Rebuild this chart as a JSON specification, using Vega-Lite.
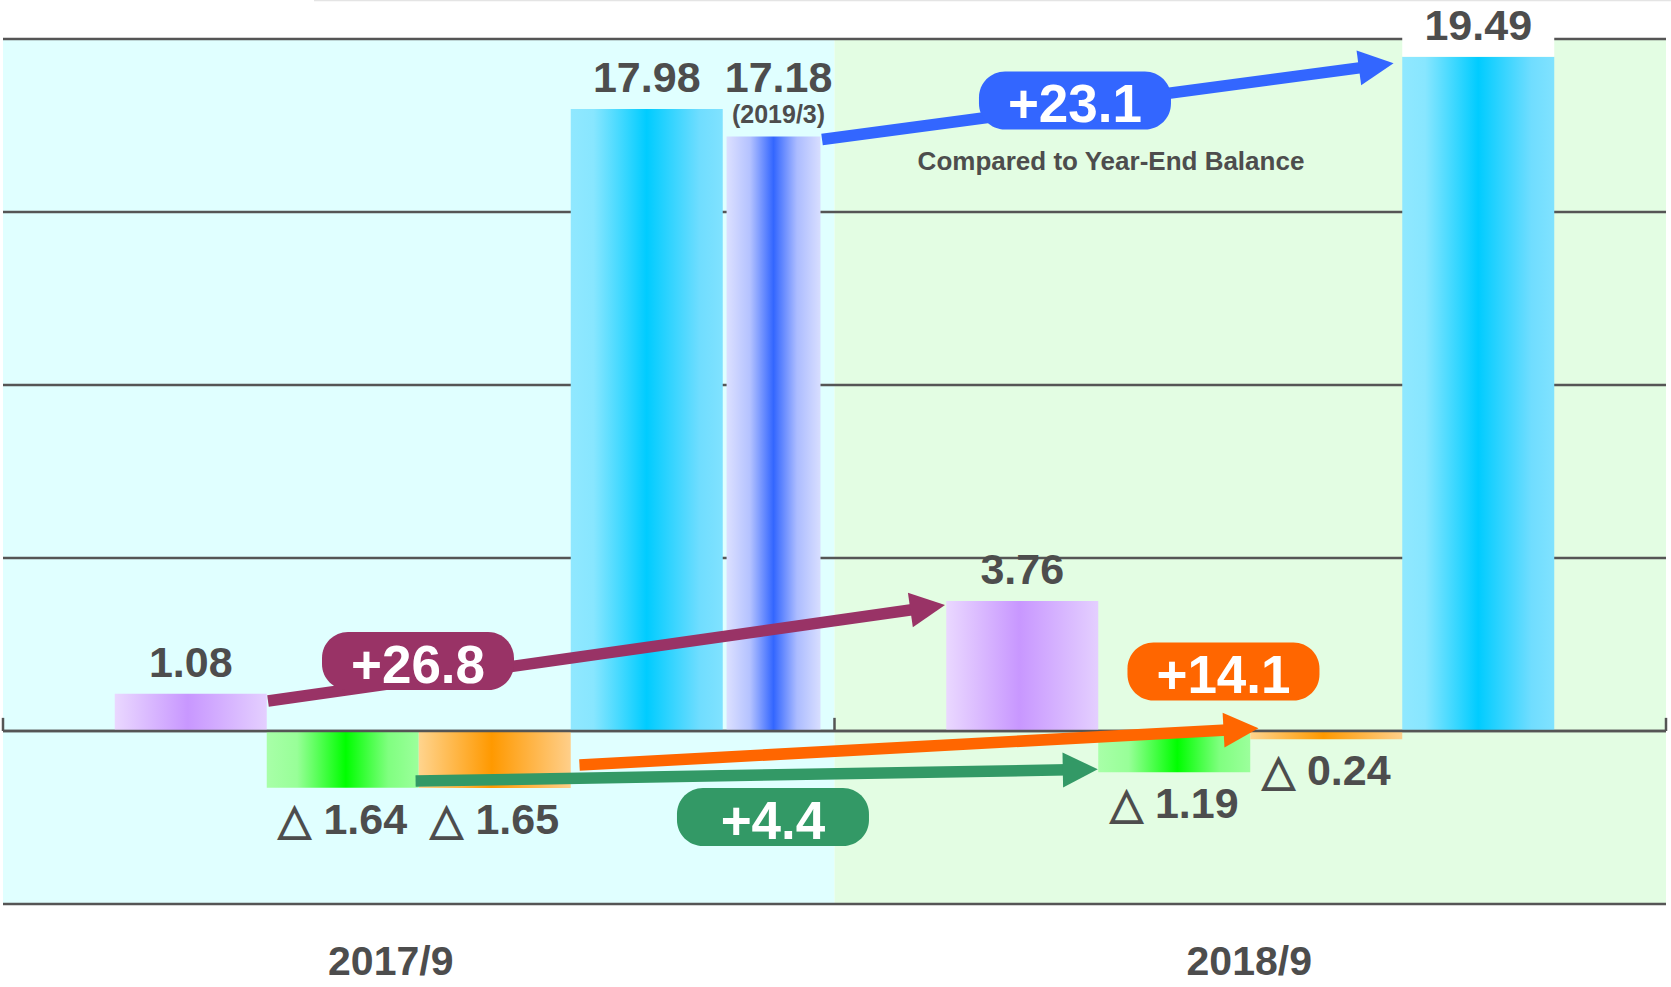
{
  "$schema": "https://vega.github.io/schema/vega-lite/v6.json",
  "width": 1663,
  "height": 865,
  "autosize": {"type": "none"},
  "padding": {"left": 3, "top": 39, "right": 5, "bottom": 83},
  "background": "white",
  "config": {"view": {"stroke": null}, "font": "Liberation Sans"},
  "datasets": {
    "periods": [{"period": "2017/9"}, {"period": "2018/9"}],
    "gridValues": [{"v": -5}, {"v": 0}, {"v": 5}, {"v": 10}, {"v": 15}, {"v": 20}],
    "cf": [
      {"period": "2017/9", "item": "Operating CF", "value": 1.08, "label": "1.08"},
      {"period": "2017/9", "item": "Investing CF", "value": -1.64, "label": "△ 1.64"},
      {"period": "2017/9", "item": "Financing CF", "value": -1.65, "label": "△ 1.65"},
      {"period": "2017/9", "item": "Cash Balance", "value": 17.98, "label": "17.98"},
      {"period": "2018/9", "item": "Operating CF", "value": 3.76, "label": "3.76"},
      {"period": "2018/9", "item": "Investing CF", "value": -1.19, "label": "△ 1.19"},
      {"period": "2018/9", "item": "Financing CF", "value": -0.24, "label": "△ 0.24"},
      {"period": "2018/9", "item": "Cash Balance", "value": 19.49, "label": "19.49"}
    ],
    "yearEnd": [
      {"period": "2017/9", "kind": "Year-End", "value": 17.18, "label": "17.18", "sub": "(2019/3)"}
    ],
    "changes": [
      {"arrow": "Operating CF", "xs": 0.3187, "ys": 0.867, "xe": 1.1121, "ye": 3.569, "label": "+26.8", "xl": 0.4991, "yl": 2.023},
      {"arrow": "Cash Balance", "xs": 0.985, "ys": 17.095, "xe": 1.6515, "ye": 19.231, "label": "+23.1", "xl": 1.2892, "yl": 18.223},
      {"arrow": "Financing CF", "xs": 0.6933, "ys": -0.983, "xe": 1.4889, "ye": 0.052, "label": "+14.1", "xl": 1.4678, "yl": 1.72},
      {"arrow": "Investing CF", "xs": 0.4962, "ys": -1.445, "xe": 1.2956, "ye": -1.116, "label": "+4.4", "xl": 0.926, "yl": -2.486}
    ],
    "notes": [
      {"note": "Compared to Year-End Balance", "xn": 1.3325, "yn": 16.214}
    ],
    "border": [
      {"x1": 0.374, "x2": 2.01, "y": 21.11}
    ]
  },
  "layer": [
    {
      "layer": [
        {
          "data": {"name": "periods"},
          "mark": {"type": "bar"},
          "encoding": {
            "x": {
              "field": "period", "type": "nominal",
              "scale": {"domain": ["2017/9", "2018/9"], "paddingInner": 0, "paddingOuter": 0},
              "axis": null
            },
            "y": {
              "datum": -5, "type": "quantitative",
              "scale": {"domain": [-5, 20], "nice": false, "zero": false},
              "axis": null
            },
            "y2": {"datum": 20},
            "fill": {
              "field": "period", "type": "nominal",
              "scale": {"domain": ["2017/9", "2018/9"], "range": ["#E0FFFF", "#E3FDE3"]},
              "legend": null
            }
          }
        },
        {
          "data": {"name": "gridValues"},
          "mark": {"type": "rule", "stroke": "#555555", "strokeWidth": 2.5},
          "encoding": {
            "y": {"field": "v", "type": "quantitative", "axis": null, "scale": {"domain": [-5, 20], "nice": false, "zero": false}}
          }
        },
        {
          "data": {"name": "cf"},
          "encoding": {
            "x": {"field": "period", "type": "nominal", "axis": null},
            "xOffset": {
              "field": "item", "type": "nominal",
              "scale": {"domain": ["Operating CF", "Investing CF", "Financing CF", "Cash Balance"], "paddingInner": 0, "paddingOuter": 0.7352}
            },
            "y": {"field": "value", "type": "quantitative", "axis": null, "scale": {"domain": [-5, 20], "nice": false, "zero": false}}
          },
          "layer": [
            {
              "transform": [{"filter": "datum.item === 'Operating CF'"}],
              "mark": {"type": "bar", "fill": {"gradient": "linear", "x1": 0, "y1": 0, "x2": 1, "y2": 0,
                "stops": [{"offset": 0, "color": "#EAD8FF"}, {"offset": 0.48, "color": "#C897FF"}, {"offset": 1, "color": "#E4CFFF"}]}}
            },
            {
              "transform": [{"filter": "datum.item === 'Investing CF'"}],
              "mark": {"type": "bar", "fill": {"gradient": "linear", "x1": 0, "y1": 0, "x2": 1, "y2": 0,
                "stops": [{"offset": 0, "color": "#A8FFA8"}, {"offset": 0.2, "color": "#98FF98"}, {"offset": 0.52, "color": "#00FF00"}, {"offset": 0.8, "color": "#80FF80"}, {"offset": 1, "color": "#9CFF9C"}]}}
            },
            {
              "transform": [{"filter": "datum.item === 'Financing CF'"}],
              "mark": {"type": "bar", "fill": {"gradient": "linear", "x1": 0, "y1": 0, "x2": 1, "y2": 0,
                "stops": [{"offset": 0, "color": "#FFD48E"}, {"offset": 0.48, "color": "#FF9900"}, {"offset": 1, "color": "#FFCF8A"}]}}
            },
            {
              "transform": [{"filter": "datum.item === 'Cash Balance'"}],
              "mark": {"type": "bar", "fill": {"gradient": "linear", "x1": 0, "y1": 0, "x2": 1, "y2": 0,
                "stops": [{"offset": 0, "color": "#90E8FF"}, {"offset": 0.15, "color": "#88E6FF"}, {"offset": 0.5, "color": "#00CCFF"}, {"offset": 0.85, "color": "#70DDFF"}, {"offset": 1, "color": "#80E2FF"}]}}
            },
            {
              "transform": [{"filter": "datum.item === 'Cash Balance' && datum.period === '2018/9'"}],
              "mark": {"type": "bar", "fill": "white"},
              "encoding": {"y2": {"datum": 20.15}}
            },
            {
              "transform": [{"filter": "datum.value >= 0"}],
              "mark": {"type": "text", "baseline": "alphabetic", "align": "center", "dy": -17, "fontSize": 43, "fontWeight": "bold", "fill": "#4d4d4d", "font": "Liberation Sans"},
              "encoding": {"text": {"field": "label"}}
            },
            {
              "transform": [{"filter": "datum.value < 0"}],
              "mark": {"type": "text", "baseline": "alphabetic", "align": "center", "dy": 46, "fontSize": 43, "fontWeight": "bold", "fill": "#4d4d4d", "font": "Liberation Sans"},
              "encoding": {"text": {"field": "label"}}
            }
          ]
        },
        {
          "data": {"name": "yearEnd"},
          "encoding": {
            "x": {"field": "period", "type": "nominal", "axis": null},
            "xOffset": {
              "field": "kind", "type": "nominal",
              "scale": {"domain": ["Half-Year", "Year-End"], "paddingInner": 0.8676, "paddingOuter": 0.0197}
            },
            "y": {"field": "value", "type": "quantitative", "axis": null, "scale": {"domain": [-5, 20], "nice": false, "zero": false}}
          },
          "layer": [
            {
              "mark": {"type": "bar", "fill": {"gradient": "linear", "x1": 0, "y1": 0, "x2": 1, "y2": 0,
                "stops": [{"offset": 0, "color": "#DCE0FF"}, {"offset": 0.25, "color": "#B4C2FF"}, {"offset": 0.5, "color": "#3366FF"}, {"offset": 0.75, "color": "#ACBCFF"}, {"offset": 1, "color": "#D8DEFF"}]}}
            },
            {
              "mark": {"type": "text", "baseline": "alphabetic", "align": "center", "dx": 5, "dy": -45, "fontSize": 43, "fontWeight": "bold", "fill": "#4d4d4d", "font": "Liberation Sans"},
              "encoding": {"text": {"field": "label"}}
            },
            {
              "mark": {"type": "text", "baseline": "alphabetic", "align": "center", "dx": 5, "dy": -14, "fontSize": 25, "fontWeight": "bold", "fill": "#4d4d4d", "font": "Liberation Sans"},
              "encoding": {"text": {"field": "sub"}}
            }
          ]
        },
        {
          "data": {"name": "periods"},
          "mark": {"type": "rule", "stroke": "#555555", "strokeWidth": 2.5},
          "encoding": {
            "x": {"field": "period", "type": "nominal", "bandPosition": 0, "axis": null},
            "y": {"datum": 0, "type": "quantitative", "axis": null, "scale": {"domain": [-5, 20], "nice": false, "zero": false}},
            "y2": {"datum": 0.38}
          }
        },
        {
          "data": {"name": "periods"},
          "transform": [{"filter": "datum.period === '2018/9'"}],
          "mark": {"type": "rule", "stroke": "#555555", "strokeWidth": 2.5},
          "encoding": {
            "x": {"field": "period", "type": "nominal", "bandPosition": 1, "axis": null},
            "y": {"datum": 0, "type": "quantitative", "axis": null, "scale": {"domain": [-5, 20], "nice": false, "zero": false}},
            "y2": {"datum": 0.38}
          }
        },
        {
          "data": {"name": "gridValues"},
          "transform": [{"filter": "datum.v === 0"}],
          "mark": {"type": "rule", "stroke": "#555555", "strokeWidth": 2.5},
          "encoding": {
            "y": {"field": "v", "type": "quantitative", "axis": null, "scale": {"domain": [-5, 20], "nice": false, "zero": false}}
          }
        },
        {
          "data": {"name": "periods"},
          "transform": [{"filter": "datum.period === '2017/9'"}],
          "mark": {"type": "text", "baseline": "alphabetic", "align": "center", "dx": -28, "dy": 71, "fontSize": 41, "fontWeight": "bold", "fill": "#4d4d4d", "font": "Liberation Sans"},
          "encoding": {
            "x": {"field": "period", "type": "nominal", "axis": null},
            "y": {"datum": -5, "type": "quantitative", "axis": null, "scale": {"domain": [-5, 20], "nice": false, "zero": false}},
            "text": {"field": "period"}
          }
        },
        {
          "data": {"name": "periods"},
          "transform": [{"filter": "datum.period === '2018/9'"}],
          "mark": {"type": "text", "baseline": "alphabetic", "align": "center", "dx": -1, "dy": 71, "fontSize": 41, "fontWeight": "bold", "fill": "#4d4d4d", "font": "Liberation Sans"},
          "encoding": {
            "x": {"field": "period", "type": "nominal", "axis": null},
            "y": {"datum": -5, "type": "quantitative", "axis": null, "scale": {"domain": [-5, 20], "nice": false, "zero": false}},
            "text": {"field": "period"}
          }
        }
      ],
      "resolve": {"scale": {"xOffset": "independent"}}
    },
    {
      "layer": [
        {
          "data": {"name": "border"},
          "mark": {"type": "rule", "stroke": "#e4e4e4", "strokeWidth": 1.5},
          "encoding": {
            "x": {"field": "x1", "type": "quantitative", "axis": null, "scale": {"domain": [0, 2], "nice": false, "zero": false}},
            "x2": {"field": "x2"},
            "y": {"field": "y", "type": "quantitative", "axis": null, "scale": {"domain": [-5, 20], "nice": false, "zero": false}}
          }
        },
        {
          "data": {"name": "changes"},
          "mark": {"type": "rule", "strokeWidth": 11.5, "strokeCap": "butt"},
          "encoding": {
            "x": {"field": "xs", "type": "quantitative", "axis": null, "scale": {"domain": [0, 2], "nice": false, "zero": false}},
            "x2": {"field": "xe"},
            "y": {"field": "ys", "type": "quantitative", "axis": null, "scale": {"domain": [-5, 20], "nice": false, "zero": false}},
            "y2": {"field": "ye"},
            "stroke": {
              "field": "arrow", "type": "nominal", "legend": null,
              "scale": {"domain": ["Operating CF", "Cash Balance", "Financing CF", "Investing CF"], "range": ["#993366", "#3366FF", "#FF6600", "#339966"]}
            }
          }
        },
        {
          "data": {"name": "changes"},
          "transform": [{"filter": "datum.arrow === 'Operating CF'"}],
          "mark": {"type": "point", "shape": "M-1,-1L1,0L-1,1Z", "size": 1225, "filled": true, "fill": "#993366", "opacity": 1, "strokeWidth": 0, "angle": 351.93},
          "encoding": {
            "x": {"field": "xe", "type": "quantitative", "axis": null, "scale": {"domain": [0, 2], "nice": false, "zero": false}},
            "y": {"field": "ye", "type": "quantitative", "axis": null, "scale": {"domain": [-5, 20], "nice": false, "zero": false}}
          }
        },
        {
          "data": {"name": "changes"},
          "transform": [{"filter": "datum.arrow === 'Cash Balance'"}],
          "mark": {"type": "point", "shape": "M-1,-1L1,0L-1,1Z", "size": 1225, "filled": true, "fill": "#3366FF", "opacity": 1, "strokeWidth": 0, "angle": 352.41},
          "encoding": {
            "x": {"field": "xe", "type": "quantitative", "axis": null, "scale": {"domain": [0, 2], "nice": false, "zero": false}},
            "y": {"field": "ye", "type": "quantitative", "axis": null, "scale": {"domain": [-5, 20], "nice": false, "zero": false}}
          }
        },
        {
          "data": {"name": "changes"},
          "transform": [{"filter": "datum.arrow === 'Financing CF'"}],
          "mark": {"type": "point", "shape": "M-1,-1L1,0L-1,1Z", "size": 1225, "filled": true, "fill": "#FF6600", "opacity": 1, "strokeWidth": 0, "angle": 356.91},
          "encoding": {
            "x": {"field": "xe", "type": "quantitative", "axis": null, "scale": {"domain": [0, 2], "nice": false, "zero": false}},
            "y": {"field": "ye", "type": "quantitative", "axis": null, "scale": {"domain": [-5, 20], "nice": false, "zero": false}}
          }
        },
        {
          "data": {"name": "changes"},
          "transform": [{"filter": "datum.arrow === 'Investing CF'"}],
          "mark": {"type": "point", "shape": "M-1,-1L1,0L-1,1Z", "size": 1225, "filled": true, "fill": "#339966", "opacity": 1, "strokeWidth": 0, "angle": 359.02},
          "encoding": {
            "x": {"field": "xe", "type": "quantitative", "axis": null, "scale": {"domain": [0, 2], "nice": false, "zero": false}},
            "y": {"field": "ye", "type": "quantitative", "axis": null, "scale": {"domain": [-5, 20], "nice": false, "zero": false}}
          }
        },
        {
          "data": {"name": "changes"},
          "mark": {"type": "point", "shape": "M-0.729,-0.302L0.729,-0.302C0.879,-0.302 1,-0.181 1,-0.031L1,0.031C1,0.181 0.879,0.302 0.729,0.302L-0.729,0.302C-0.879,0.302 -1,0.181 -1,0.031L-1,-0.031C-1,-0.181 -0.879,-0.302 -0.729,-0.302Z", "size": 36864, "filled": true, "opacity": 1, "strokeWidth": 0},
          "encoding": {
            "x": {"field": "xl", "type": "quantitative", "axis": null, "scale": {"domain": [0, 2], "nice": false, "zero": false}},
            "y": {"field": "yl", "type": "quantitative", "axis": null, "scale": {"domain": [-5, 20], "nice": false, "zero": false}},
            "fill": {
              "field": "arrow", "type": "nominal", "legend": null,
              "scale": {"domain": ["Operating CF", "Cash Balance", "Financing CF", "Investing CF"], "range": ["#993366", "#3366FF", "#FF6600", "#339966"]}
            }
          }
        },
        {
          "data": {"name": "changes"},
          "mark": {"type": "text", "align": "center", "baseline": "middle", "dy": 6, "fontSize": 53, "fontWeight": "bold", "fill": "white", "font": "Liberation Sans"},
          "encoding": {
            "x": {"field": "xl", "type": "quantitative", "axis": null, "scale": {"domain": [0, 2], "nice": false, "zero": false}},
            "y": {"field": "yl", "type": "quantitative", "axis": null, "scale": {"domain": [-5, 20], "nice": false, "zero": false}},
            "text": {"field": "label"}
          }
        },
        {
          "data": {"name": "notes"},
          "mark": {"type": "text", "align": "center", "baseline": "alphabetic", "fontSize": 26, "fontWeight": "bold", "fill": "#4d4d4d", "font": "Liberation Sans"},
          "encoding": {
            "x": {"field": "xn", "type": "quantitative", "axis": null, "scale": {"domain": [0, 2], "nice": false, "zero": false}},
            "y": {"field": "yn", "type": "quantitative", "axis": null, "scale": {"domain": [-5, 20], "nice": false, "zero": false}},
            "text": {"field": "note"}
          }
        }
      ]
    }
  ],
  "resolve": {"scale": {"x": "independent", "fill": "independent"}}
}
